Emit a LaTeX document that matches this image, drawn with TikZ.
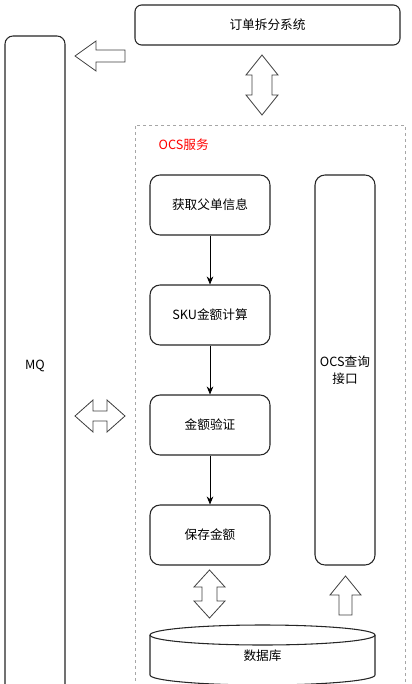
\documentclass[tikz,border=0pt]{standalone}
\usepackage{fontspec}
\setmainfont{Noto Sans CJK SC}
\usetikzlibrary{arrows.meta,positioning}

\begin{document}
\begin{tikzpicture}[
  x=0.75pt, y=-0.75pt,
  font=\fontsize{9.5}{12.5}\selectfont,
  box/.style={draw=black!85, line width=0.8pt, rounded corners=7.5pt,
              fill=white, minimum width=90pt, minimum height=45pt,
              align=center, inner sep=1pt},
  region/.style={draw=black!35, dash pattern=on 2.5pt off 2pt, line width=0.6pt},
  blk/.style={draw=black!75, fill=white, line width=0.6pt, line join=miter},
  arr/.style={-{Stealth[length=6pt, width=5pt]}, line width=0.6pt, black}
]
  \useasboundingbox (0,0) rectangle (411,684);
  \clip (0,0) rectangle (411,684);
  % Outer systems
  \node[box, minimum width=45pt, minimum height=495pt, rounded corners=6pt] (mq) at (35,366) {MQ};
  \node[box, minimum width=198.75pt, minimum height=30pt, rounded corners=5pt] (split) at (267.5,25) {订单拆分系统};
  % OCS region
  \node[region, minimum width=202.5pt, minimum height=431.25pt, inner sep=0pt] (ocs) at (270,412.5) {};
  \node[text=red, anchor=west] (ocslbl) at (154,145) {OCS服务};
  % Pipeline
  \node[box] (fetch) at (210,205) {获取父单信息};
  \node[box] (sku) at (210,315) {SKU金额计算};
  \node[box] (check) at (210,425) {金额验证};
  \node[box] (save) at (210,535) {保存金额};
  \node[box, minimum width=45pt, minimum height=292.5pt] (query) at (345,370) {OCS查询\\接口};
  % Database
  \node (db) at (262.5,656) {数据库};
  \draw[line width=0.8pt, draw=black!85] (150,635) -- (150,675)
    arc[start angle=180, end angle=360, x radius=84.375pt, y radius=7.5pt] -- (375,635);
  \draw[line width=0.8pt, draw=black!85] (262.5,635) ellipse [x radius=84.375pt, y radius=7.5pt];
  % Flow
  \draw[arr] (fetch) -- (sku);
  \draw[arr] (sku) -- (check);
  \draw[arr] (check) -- (save);
  % Block arrows
  \draw[blk] (75,56) -- (96,41) -- (96,50) -- (125,50) -- (125,62) -- (96,62) -- (96,71) -- cycle;
  \draw[blk] (262,55) -- (278,75) -- (272,75) -- (272,95) -- (278,95) -- (262,115)
    -- (246,95) -- (252,95) -- (252,75) -- (246,75) -- cycle;
  \draw[blk] (75,416) -- (93,400) -- (93,411) -- (107,411) -- (107,400) -- (125,416)
    -- (107,432) -- (107,421) -- (93,421) -- (93,432) -- cycle;
  \draw[blk] (209.5,570) -- (225,587) -- (217,587) -- (217,601) -- (225,601) -- (209.5,618)
    -- (194,601) -- (202,601) -- (202,587) -- (194,587) -- cycle;
  \draw[blk] (345.5,576) -- (361,595) -- (352,595) -- (352,615) -- (339,615) -- (339,595)
    -- (330,595) -- cycle;
\end{tikzpicture}
\end{document}
